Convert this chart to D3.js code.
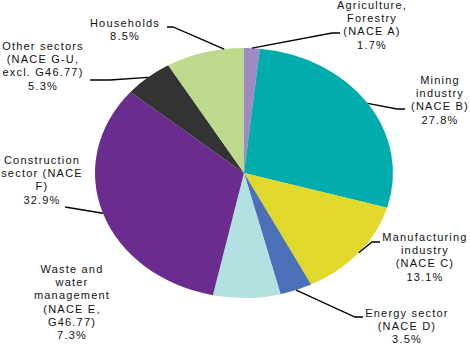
<!DOCTYPE html>
<html>
<head>
<meta charset="utf-8">
<script src="https://cdn.jsdelivr.net/npm/d3@7"></script>
<style>
  html, body { margin: 0; padding: 0; background: #fff; }
  svg { display: block; }
  .lbl { font-family: "Liberation Sans", Arial, sans-serif; font-size: 11px; letter-spacing: 1.2px; fill: #111; }
</style>
</head>
<body>
<script>
// sectors, clockwise from 12 o'clock
const sectors = [
  "Agriculture, Forestry (NACE A)",
  "Mining industry (NACE B)",
  "Manufacturing industry (NACE C)",
  "Energy sector (NACE D)",
  "Waste and water management (NACE E, G46.77)",
  "Construction sector (NACE F)",
  "Other sectors (NACE G-U, excl. G46.77)",
  "Households"
];
const shares = [1.7, 27.8, 13.1, 3.5, 7.3, 32.9, 5.3, 8.5];
const labelLines = [
  ["Agriculture,", "Forestry", "(NACE A)"],
  ["Mining", "industry", "(NACE B)"],
  ["Manufacturing", "industry", "(NACE C)"],
  ["Energy sector", "(NACE D)"],
  ["Waste and", "water", "management", "(NACE E,", "G46.77)"],
  ["Construction", "sector (NACE", "F)"],
  ["Other sectors", "(NACE G-U,", "excl. G46.77)"],
  ["Households"]
];
const colors = ["#a08ac2", "#00acac", "#e0d82a", "#4b70b8", "#b3e0e0", "#6a2d8f", "#333333", "#bdd98b"];

// label layout: text centre x, first baseline y, leader elbow points, where on slice the leader starts
const layout = [
  { x: 372, y: 9,   line: [[332, 33], [340, 33]] },
  { x: 440, y: 84,  line: [[397, 109], [405, 109]] },
  { x: 425, y: 241, line: [[372, 242], [380, 242]] },
  { x: 407, y: 317, line: [[355, 317], [363, 317]] },
  { x: 72,  y: 273, line: null },
  { x: 42,  y: 164, line: [[65, 207]] },
  { x: 43,  y: 50,  line: [[110, 80], [90, 80]] },
  { x: 125, y: 27,  line: [[173, 27], [167, 27]], at: 0.75 }
];

const width = 470, height = 346;
const cx = 244, cy = 173, rx = 149, ry = 125;
const lineH = 13.2;

const svg = d3.select("body").append("svg")
  .attr("width", width)
  .attr("height", height);

const data = sectors.map((s, i) => ({ name: s, value: shares[i], i }));
const pie = d3.pie().value(d => d.value).sort(null);
const arcs = pie(data);

const arc = d3.arc().innerRadius(0).outerRadius(ry);

svg.append("g")
  .attr("transform", `translate(${cx},${cy}) scale(${rx / ry},1)`)
  .selectAll("path")
  .data(arcs)
  .join("path")
  .attr("d", arc)
  .attr("fill", d => colors[d.data.i]);

// point on the ellipse edge at an angle (clockwise from top)
function edge(a) {
  return [cx + rx * Math.sin(a), cy - ry * Math.cos(a)];
}

const lines = svg.append("g")
  .attr("fill", "none")
  .attr("stroke", "#000")
  .attr("stroke-width", 1.3);

arcs.forEach((d, i) => {
  const l = layout[i];
  if (!l.line) return;
  const t = l.at == null ? 0.5 : l.at;
  const a = d.startAngle + (d.endAngle - d.startAngle) * t;
  const pts = [edge(a), ...l.line];
  lines.append("path").attr("d", d3.line()(pts));
});

const labels = svg.append("g");
arcs.forEach((d, i) => {
  const l = layout[i];
  const txt = labels.append("text")
    .attr("class", "lbl")
    .attr("text-anchor", "middle");
  const rows = [...labelLines[i], d3.format(".1f")(d.data.value) + "%"];
  rows.forEach((r, k) => {
    txt.append("tspan")
      .attr("x", l.x)
      .attr("y", l.y + k * lineH)
      .text(r);
  });
});
</script>
</body>
</html>
